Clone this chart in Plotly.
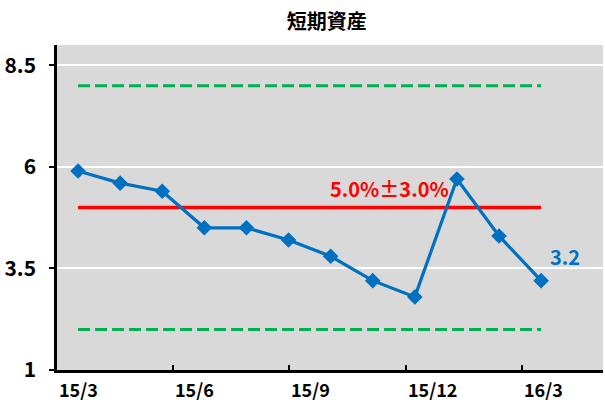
import plotly.graph_objects as go

# Monthly short-term assets (%), Mar 2015 - Feb 2016
months = ["15/3", "15/4", "15/5", "15/6", "15/7", "15/8",
          "15/9", "15/10", "15/11", "15/12", "16/1", "16/2"]
values = [5.9, 5.6, 5.4, 4.5, 4.5, 4.2, 3.8, 3.2, 2.8, 5.7, 4.3, 3.2]

target = 5.0
band = 3.0

# Category-axis tick marks and their (left-aligned) labels
tick_pos = [-0.5, 2.26, 5.02, 7.79, 10.55]
tick_labels = ["15/3", "15/6", "15/9", "15/12", "16/3"]
y_ticks = [1, 3.5, 6, 8.5]

FONT = "Noto Sans CJK JP"
BLUE = "#0070c0"
idx = list(range(len(values)))

fig = go.Figure()

# Tolerance band: upper / lower limits
for lvl in (target + band, target - band):
    fig.add_trace(go.Scatter(
        x=[idx[0], idx[-1]], y=[lvl, lvl], mode="lines",
        line=dict(color="#00b050", width=3, dash="12px,5px"),
        hoverinfo="skip", showlegend=False))

# Target line
fig.add_trace(go.Scatter(
    x=[idx[0], idx[-1]], y=[target, target], mode="lines",
    line=dict(color="#ff0000", width=3.5),
    hoverinfo="skip", showlegend=False))

# Actual series
fig.add_trace(go.Scatter(
    x=idx, y=values, mode="lines+markers",
    line=dict(color=BLUE, width=3.2),
    marker=dict(symbol="diamond", size=12, color=BLUE),
    showlegend=False))

annotations = [
    dict(x=7.39, y=target, xref="x", yref="y", yshift=19,
         text=f"{target:.1f}%±{band:.1f}%", showarrow=False,
         font=dict(family=FONT, size=20, color="#ff0000", weight="bold")),
    dict(x=idx[-1], y=values[-1], xref="x", yref="y", xshift=24, yshift=24,
         text=f"{values[-1]:.1f}", showarrow=False,
         font=dict(family=FONT, size=20, color=BLUE, weight="bold")),
]
for pos, lab in zip(tick_pos, tick_labels):
    annotations.append(dict(
        x=pos, y=0, xref="x", yref="paper", xanchor="left", yanchor="top",
        yshift=-4, text=lab, showarrow=False,
        font=dict(family=FONT, size=18, color="black", weight="bold")))

fig.update_layout(
    width=605, height=405,
    margin=dict(l=57, r=2, t=45, b=35),
    paper_bgcolor="white", plot_bgcolor="#d9d9d9",
    title=dict(text="短期資産", x=0.54, xanchor="center", y=0.945, yanchor="middle",
               font=dict(family=FONT, size=20, color="black", weight="bold")),
    xaxis=dict(range=[-0.5, 12.47], tickmode="array", tickvals=tick_pos,
               ticktext=[""] * len(tick_pos), ticks="inside", ticklen=5,
               tickwidth=1.5, tickcolor="black", showgrid=False, zeroline=False,
               showline=True, linecolor="black", linewidth=2.5, automargin=False),
    yaxis=dict(range=[1, 9], tickmode="array", tickvals=y_ticks,
               ticktext=[f"{v:g}" for v in y_ticks], ticks="outside", ticklen=5,
               tickwidth=1.5, tickcolor="black", ticklabelstandoff=9,
               showgrid=True, gridcolor="white", gridwidth=1.5, zeroline=False,
               showline=True, linecolor="black", linewidth=2.5, automargin=False,
               tickfont=dict(family=FONT, size=21, color="black", weight="bold")),
    annotations=annotations,
)

fig.write_html("out.html")
